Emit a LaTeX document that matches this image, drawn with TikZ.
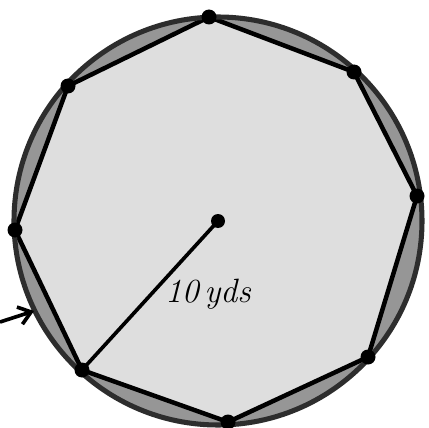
\documentclass[tikz,border=0pt]{standalone}
\usetikzlibrary{arrows.meta}
\definecolor{facegray}{RGB}{222,222,222}
\definecolor{capgray}{RGB}{150,150,150}
\definecolor{rimgray}{RGB}{45,45,45}
\tikzset{
    vertexdot/.style={fill=black},
    sideline/.style={line width=3.2pt, line join=round},
}
\begin{document}
\begin{tikzpicture}[x=0.25mm, y=-0.25mm]
    \useasboundingbox (0,0) rectangle (429,428);
    \coordinate (O) at (218,221);
    % vertices of the octagon on the circle (y axis points down)
    \coordinate (A) at (209,17);
    \coordinate (B) at (354,72);
    \coordinate (C) at (417,196);
    \coordinate (D) at (368,357);
    \coordinate (E) at (228,422);
    \coordinate (F) at (82,370);
    \coordinate (G) at (15,230);
    \coordinate (H) at (68,86);
    \fill[capgray] (O) circle (204);
    \fill[facegray] (A) -- (B) -- (C) -- (D) -- (E) -- (F) -- (G) -- (H) -- cycle;
    \draw[sideline] (A) -- (B) -- (C) -- (D) -- (E) -- (F) -- (G) -- (H) -- cycle;
    \draw[rimgray, line width=3.6pt] (O) circle (204);
    \draw[line width=2.6pt] (O) -- (F);
    \node[font=\fontsize{24}{26}\selectfont\itshape] (r) at (208,294) {10\,yds};
    \coordinate (tail) at (0,322);
    \coordinate (rim) at (34,311);
    \draw[-{Straight Barb[length=3mm, width=4.5mm]}, line width=2.6pt] (tail) -- (rim);
    \fill[vertexdot] (O) circle (7);
    \foreach \p in {A,B,C,D,E,F,G,H}
        \fill[vertexdot] (\p) circle (7.5);
\end{tikzpicture}
\end{document}
